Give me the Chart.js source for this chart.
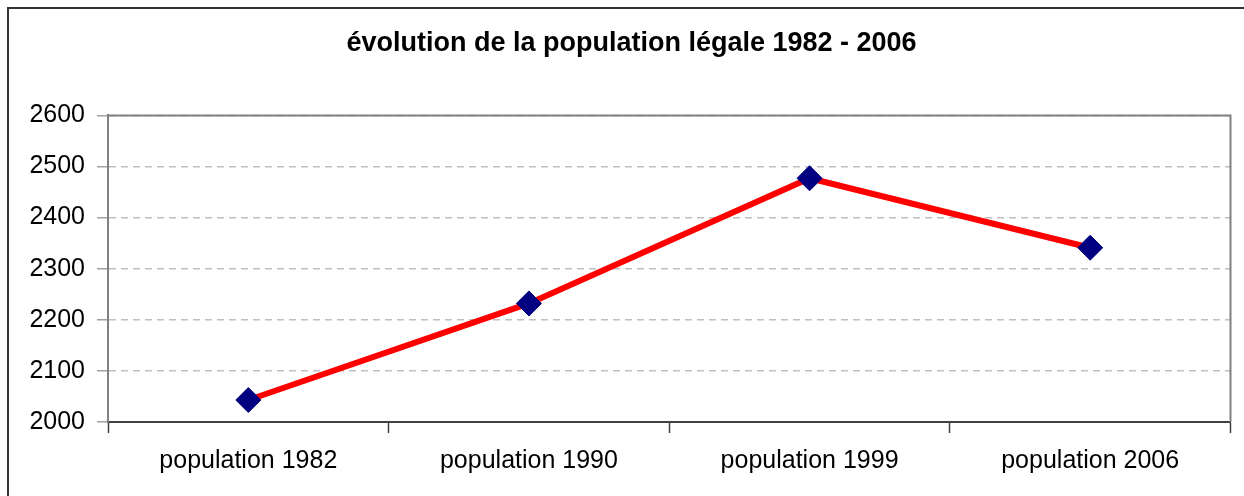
<!DOCTYPE html>
<html>
<head>
<meta charset="utf-8">
<script src="https://cdn.jsdelivr.net/npm/chart.js@4/dist/chart.umd.min.js"></script>
<style>
  html, body { margin: 0; padding: 0; background: #fff; overflow: hidden; }
  #frame { position: absolute; left: 7px; top: 7px; width: 1300px; height: 600px; border: 2px solid #333; }
  #wrap { position: absolute; left: 0; top: 0; width: 1244px; height: 496px; }
</style>
</head>
<body>
<div id="frame"></div>
<div id="wrap"><canvas id="lineChart"></canvas></div>
<script>
// données
const categories = ['population 1982', 'population 1990', 'population 1999', 'population 2006'];
const population = [2043, 2232, 2477, 2341];
const yTicks = [2000, 2100, 2200, 2300, 2400, 2500, 2600];

const font = "'Liberation Sans', Arial, sans-serif";

// cadre du graphique (haut et droite)
const plotFrame = {
    id: 'plotFrame',
    afterDraw(chart) {
        const {ctx, chartArea: a} = chart;
        ctx.save();
        ctx.strokeStyle = '#808080';
        ctx.lineWidth = 2;
        ctx.beginPath();
        ctx.moveTo(a.left, a.top);
        ctx.lineTo(a.right, a.top);
        ctx.lineTo(a.right, a.bottom);
        ctx.stroke();
        ctx.restore();
    }
};

const ctx = document.getElementById('lineChart').getContext('2d');
const lineChart = new Chart(ctx, {
    type: 'line',
    data: {
        labels: categories,
        datasets: [{
            data: population,
            borderColor: '#ff0000',
            borderWidth: 6,
            pointStyle: 'rectRot',
            pointRadius: 12.5,
            pointBackgroundColor: '#000080',
            pointBorderColor: '#000080',
            pointBorderWidth: 1,
            tension: 0
        }]
    },
    plugins: [plotFrame],
    options: {
        responsive: true,
        maintainAspectRatio: false,
        animation: false,
        layout: {padding: {left: 27, right: 8, top: 10, bottom: 0}},
        plugins: {
            legend: {display: false},
            tooltip: {enabled: false},
            title: {
                display: true,
                text: 'évolution de la population légale 1982 - 2006',
                color: '#000',
                font: {family: font, size: 27, weight: 'bold'},
                padding: {top: 17, bottom: 56}
            }
        },
        scales: {
            x: {
                offset: true,
                grid: {offset: true, drawOnChartArea: false, tickLength: 11, tickColor: '#404040', tickWidth: 1.5},
                border: {color: '#404040', width: 2},
                ticks: {color: '#000', padding: 13, font: {family: font, size: 25}, maxRotation: 0},
                afterFit(s) { s.height = 74; }
            },
            y: {
                min: 2000,
                max: 2600,
                afterBuildTicks(s) { s.ticks = yTicks.map(v => ({value: v})); },
                grid: {color: '#c0c0c0', lineWidth: 1.5, tickLength: 11, tickColor: '#a0a0a0', tickBorderDash: []},
                border: {color: '#808080', width: 2, dash: [7, 5]},
                ticks: {
                    color: '#000',
                    padding: 12,
                    font: {family: font, size: 25},
                    callback: (v) => String(v)
                },
                afterFit(s) { s.width = 81; }
            }
        }
    }
});
</script>
</body>
</html>
